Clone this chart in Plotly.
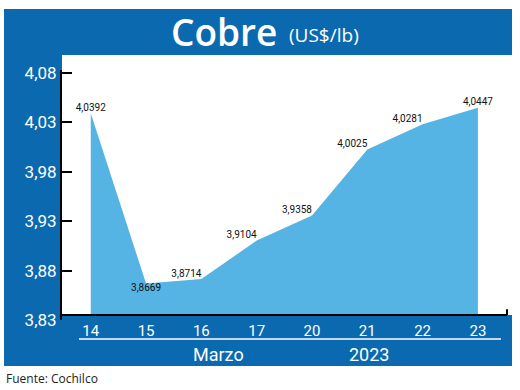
import plotly.graph_objects as go

days = ["14", "15", "16", "17", "20", "21", "22", "23"]
prices = [4.0392, 3.8669, 3.8714, 3.9104, 3.9358, 4.0025, 4.0281, 4.0447]
label_pos = ["top center", "bottom center", "top left", "top left", "top left", "top left", "top left", "top center"]
y_ticks = [3.83, 3.88, 3.93, 3.98, 4.03, 4.08]
month_label = "Marzo"
year_label = "2023"
title_main = "Cobre"
title_unit = "(US$/lb)"
source = "Fuente: Cochilco"

BLUE = "#0b69b0"
FILL = "#56b4e4"
BASE = 3.835
NARROW = "Liberation Sans Narrow, Arial Narrow, Roboto, sans-serif"

W, H = 520, 390
L, R, T, B = 62, 10, 70, 70
PW, PH = W - L - R, H - T - B


def px(x):
    return (x - L) / PW


def py(y):
    return (H - B - y) / PH


labels = [f"{v:.4f}".replace(".", ",") for v in prices]

fig = go.Figure()
fig.add_trace(go.Scatter(x=days, y=[BASE] * len(days), mode="lines",
                         line=dict(width=0, color=FILL), hoverinfo="skip", showlegend=False))
fig.add_trace(go.Scatter(x=days, y=prices, mode="lines+text", fill="tonexty",
                         fillcolor=FILL, line=dict(width=0, color=FILL),
                         text=labels, textposition=label_pos,
                         textfont=dict(family=NARROW, size=10, color="#111111"),
                         showlegend=False))

shapes = [
    dict(type="rect", xref="paper", yref="paper", x0=px(4), x1=px(512), y0=py(9), y1=py(55),
         fillcolor=BLUE, line=dict(width=0), layer="below"),
    dict(type="rect", xref="paper", yref="paper", x0=px(4), x1=px(62), y0=py(55), y1=py(366),
         fillcolor=BLUE, line=dict(width=0), layer="below"),
    dict(type="rect", xref="paper", yref="paper", x0=px(4), x1=px(512), y0=py(315), y1=py(366),
         fillcolor=BLUE, line=dict(width=0), layer="below"),
    dict(type="line", xref="paper", yref="y", x0=0, x1=px(507), y0=BASE, y1=BASE,
         line=dict(color="black", width=2)),
    dict(type="line", xref="paper", yref="y", x0=px(507), x1=px(507), y0=BASE, y1=BASE + 0.006,
         line=dict(color="black", width=2)),
    dict(type="line", xref="paper", yref="paper", x0=px(79), x1=px(501), y0=py(339), y1=py(339),
         line=dict(color="white", width=1.5)),
]

annotations = [
    dict(text=title_main, xref="paper", yref="paper", x=px(224), y=py(31), xanchor="center",
         yanchor="middle", showarrow=False,
         font=dict(family="Open Sans", size=37, color="white", weight=600)),
    dict(text=title_unit, xref="paper", yref="paper", x=px(287), y=py(35), xanchor="left",
         yanchor="middle", showarrow=False, font=dict(family="Open Sans", size=19, color="white")),
    dict(text=month_label, xref="paper", yref="paper", x=px(218), y=py(354), xanchor="center",
         yanchor="middle", showarrow=False, font=dict(family=NARROW, size=18, color="white")),
    dict(text=year_label, xref="paper", yref="paper", x=px(369), y=py(354), xanchor="center",
         yanchor="middle", showarrow=False, font=dict(family=NARROW, size=18, color="white")),
    dict(text=source, xref="paper", yref="paper", x=px(4), y=py(378), xanchor="left",
         yanchor="middle", showarrow=False, font=dict(family="Open Sans", size=12, color="#222222")),
]

fig.update_layout(
    width=W, height=H, margin=dict(l=L, r=R, t=T, b=B, autoexpand=False),
    paper_bgcolor="white", plot_bgcolor="rgba(0,0,0,0)",
    separators=",.",
    shapes=shapes, annotations=annotations, showlegend=False,
    xaxis=dict(type="category", range=[-0.52, 7.58], showline=False, showgrid=False,
               zeroline=False, ticks="", automargin=False,
               tickfont=dict(family=NARROW, size=15, color="white")),
    yaxis=dict(range=[3.83, 4.083], tickvals=y_ticks, tickformat=".2f", showgrid=False,
               zeroline=False, showline=True, linecolor="black", linewidth=2, automargin=False,
               ticks="inside", ticklen=10, tickwidth=2, tickcolor="black",
               tickfont=dict(family=NARROW, size=17, color="white")),
)

fig.write_html("out.html", config={"displayModeBar": False},
               post_script="document.body.style.margin='0';document.body.style.overflow='hidden';")
